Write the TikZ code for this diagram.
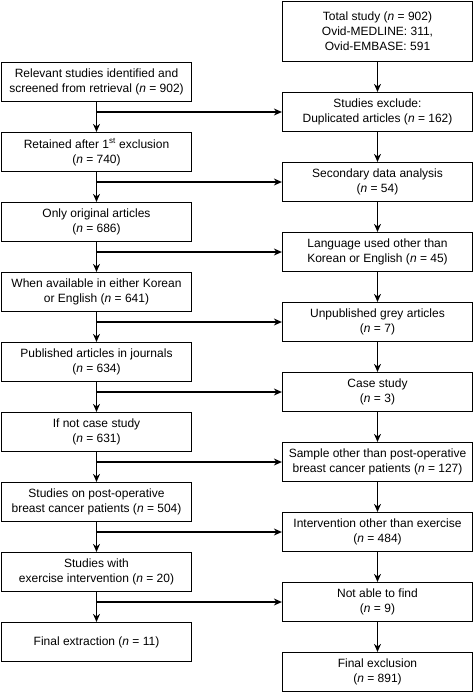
\documentclass[tikz,border=0pt]{standalone}
\usepackage{fontspec}
\setmainfont{Liberation Sans}
\usetikzlibrary{arrows.meta}

\tikzset{
  box/.style={draw, line width=1.2pt, minimum width=190pt, minimum height=39pt, inner sep=1pt, align=center, font=\fontsize{12}{15}\selectfont},
  arr/.style={line width=1.1pt, -{Stealth[length=8pt,width=7pt]}}
}

\begin{document}
\begin{tikzpicture}[x=1pt,y=-1pt]

\useasboundingbox (0,0) rectangle (474,694);

% right column
\node[box, minimum height=60pt] (top) at (377.5,31.5) {Total study (\textit{n} = 902)\\Ovid-MEDLINE: 311,\\Ovid-EMBASE: 591};
\node[box] (r0) at (377.5,112) {Studies exclude:\\Duplicated articles (\textit{n} = 162)};
\node[box] (r1) at (377.5,182) {Secondary data analysis\\(\textit{n} = 54)};
\node[box] (r2) at (377.5,252) {Language used other than\\Korean or English (\textit{n} = 45)};
\node[box] (r3) at (377.5,322) {Unpublished grey articles\\(\textit{n} = 7)};
\node[box] (r4) at (377.5,392) {Case study\\(\textit{n} = 3)};
\node[box] (r5) at (377.5,462) {Sample other than post-operative\\breast cancer patients (\textit{n} = 127)};
\node[box] (r6) at (377.5,532) {Intervention other than exercise\\(\textit{n} = 484)};
\node[box] (r7) at (377.5,602) {Not able to find\\(\textit{n} = 9)};
\node[box] (r8) at (377.5,672) {Final exclusion\\(\textit{n} = 891)};

% left column
\node[box] (l0) at (96.5,82) {Relevant studies identified and\\screened from retrieval (\textit{n} = 902)};
\node[box] (l1) at (96.5,152) {Retained after 1\textsuperscript{st} exclusion\\(\textit{n} = 740)};
\node[box] (l2) at (96.5,222) {Only original articles\\(\textit{n} = 686)};
\node[box] (l3) at (96.5,292) {When available in either Korean\\or English (\textit{n} = 641)};
\node[box] (l4) at (96.5,362) {Published articles in journals\\(\textit{n} = 634)};
\node[box] (l5) at (96.5,432) {If not case study\\(\textit{n} = 631)};
\node[box] (l6) at (96.5,502) {Studies on post-operative\\breast cancer patients (\textit{n} = 504)};
\node[box] (l7) at (96.5,572) {Studies with\\exercise intervention (\textit{n} = 20)};
\node[box] (l8) at (96.5,642) {Final extraction (\textit{n} = 11)};

% Arrows
\draw[arr] (top) -- (r0);
\draw[arr] (r0) -- (r1);
\draw[arr] (r1) -- (r2);
\draw[arr] (r2) -- (r3);
\draw[arr] (r3) -- (r4);
\draw[arr] (r4) -- (r5);
\draw[arr] (r5) -- (r6);
\draw[arr] (r6) -- (r7);
\draw[arr] (r7) -- (r8);

\draw[arr] (l0) -- (l1);
\draw[arr] (l1) -- (l2);
\draw[arr] (l2) -- (l3);
\draw[arr] (l3) -- (l4);
\draw[arr] (l4) -- (l5);
\draw[arr] (l5) -- (l6);
\draw[arr] (l6) -- (l7);
\draw[arr] (l7) -- (l8);

\draw[arr] (l0.south |- r0.west) -- (r0.west);
\draw[arr] (l1.south |- r1.west) -- (r1.west);
\draw[arr] (l2.south |- r2.west) -- (r2.west);
\draw[arr] (l3.south |- r3.west) -- (r3.west);
\draw[arr] (l4.south |- r4.west) -- (r4.west);
\draw[arr] (l5.south |- r5.west) -- (r5.west);
\draw[arr] (l6.south |- r6.west) -- (r6.west);
\draw[arr] (l7.south |- r7.west) -- (r7.west);

\end{tikzpicture}
\end{document}
